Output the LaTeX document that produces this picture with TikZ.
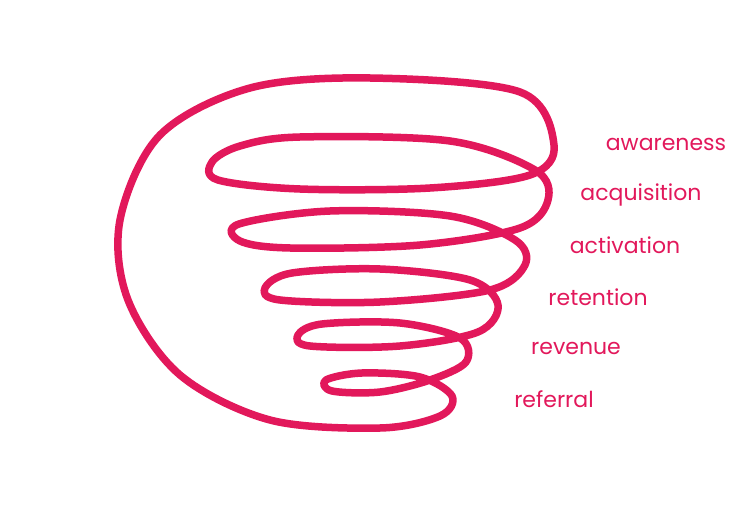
\documentclass[tikz,border=0pt]{standalone}
\usepackage{fontspec}
\setmainfont{Poppins}
\definecolor{funnel}{HTML}{E2185B}
\begin{document}
\begin{tikzpicture}[
    x=1pt,y=-1pt,
    stage/.style={text=funnel,font=\fontsize{22}{26}\selectfont,inner sep=0pt}
    ]
    \useasboundingbox (0,0) rectangle (756,505);
    \draw[funnel, line width=7.5pt, line join=round] plot[smooth cycle, tension=0.55] coordinates {
      (370,78) (520,92) (554,145) (530,175) (430,188) (300,189) (218,180) (212,162)
      (240,146) (300,137) (450,141) (535,170) (548,200) (520,228) (420,245) (290,248) (240,241)
      (239,224) (330,211) (450,216) (515,240) (525,265) (490,290) (380,302) (280,300)
      (265,288) (292,273) (380,269) (470,280) (498,305) (478,332) (400,346) (310,346)
      (298,335) (322,324) (400,323) (460,338) (466,362) (430,380) (380,392) (332,391)
      (326,380) (362,373) (420,377) (452,396) (440,416) (380,428) (270,420)
      (180,375) (128,300) (120,220) (160,135) (250,88)};
    \node[stage] (awareness) at (666,144) {awareness};
    \node[stage] (acquisition) at (641,195) {acquisition};
    \node[stage] (activation) at (625,245) {activation};
    \node[stage] (retention) at (598,297) {retention};
    \node[stage] (revenue) at (576,348) {revenue};
    \node[stage] (referral) at (554,399) {referral};
\end{tikzpicture}
\end{document}
